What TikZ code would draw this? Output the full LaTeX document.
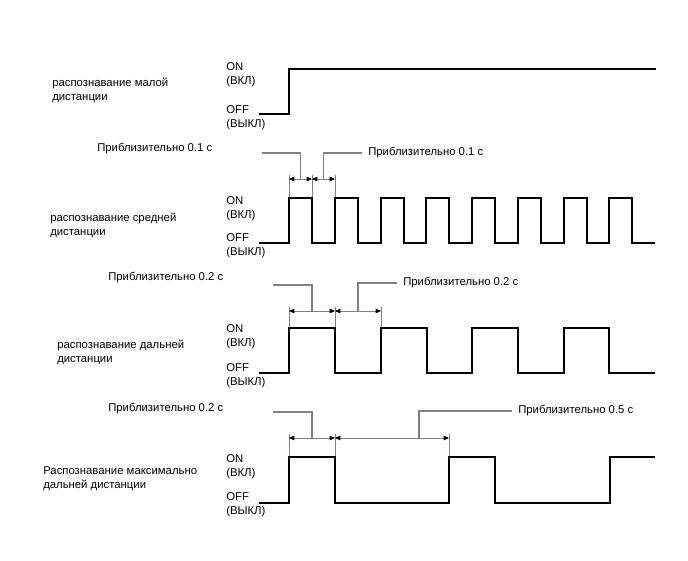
\documentclass[tikz,border=0pt]{standalone}
\usepackage{fontspec}
\setmainfont{Liberation Sans}
\usetikzlibrary{arrows.meta}

\begin{document}
\begin{tikzpicture}[
    x=0.75pt, y=-0.75pt,
    font=\fontsize{8.5}{10.6}\selectfont,
    lbl/.style={anchor=west, align=left, inner sep=0pt},
    tlbl/.style={anchor=west, inner xsep=4.5pt, inner ysep=0pt},
    sig/.style={draw=black, line width=1.4pt, line join=miter},
    lead/.style={draw=gray, line width=1.1pt},
    ext/.style={draw=gray, line width=0.5pt},
    dim/.style={draw=gray, line width=0.6pt,
                {Triangle[length=4pt, width=3.4pt, color=black]}-{Triangle[length=4pt, width=3.4pt, color=black]}},
  ]

  \useasboundingbox (0,0) rectangle (688,560);

  % short range
  \node[lbl] (near)    at (52,90.5) {распознавание малой\\дистанции};
  \node[lbl] (nearon)  at (226,75) {ON\\(ВКЛ)};
  \node[lbl] (nearoff) at (226,118) {OFF\\(ВЫКЛ)};
  \draw[sig] (259,114) -- (289,114) -- (289,69) -- (656,69);

  % middle range
  \node[lbl] (t1l) at (97,149) {Приблизительно 0.1 с};
  \node[tlbl] (t1r) at (362,153) {Приблизительно 0.1 с};
  \node[lbl] (mid)    at (50,225) {распознавание средней\\дистанции};
  \node[lbl] (midon)  at (226,208.5) {ON\\(ВКЛ)};
  \node[lbl] (midoff) at (226,246) {OFF\\(ВЫКЛ)};

  \draw[ext] (289,175) -- (289,198);
  \draw[ext] (312,175) -- (312,198);
  \draw[ext] (335,175) -- (335,198);
  \draw[dim] (289,179) -- (312,179);
  \draw[dim] (312,179) -- (335,179);
  \draw[lead] (262,153) -| (300.5,179);
  \draw[lead] (323.5,179) |- (t1r.west);

  \draw[sig] (259,243) -- (289,243) -- (289,198) -- (312,198) -- (312,243)
    -- (335,243) -- (335,198) -- (358,198) -- (358,243)
    -- (381,243) -- (381,198) -- (404,198) -- (404,243)
    -- (426,243) -- (426,198) -- (449,198) -- (449,243)
    -- (472,243) -- (472,198) -- (495,198) -- (495,243)
    -- (518,243) -- (518,198) -- (541,198) -- (541,243)
    -- (564,243) -- (564,198) -- (587,198) -- (587,243)
    -- (609,243) -- (609,198) -- (632,198) -- (632,243) -- (655,243);

  % long range
  \node[lbl] (t2l) at (108,278) {Приблизительно 0.2 с};
  \node[tlbl] (t2r) at (397,283) {Приблизительно 0.2 с};
  \node[lbl] (far)    at (57,352) {распознавание дальней\\дистанции};
  \node[lbl] (faron)  at (226,337) {ON\\(ВКЛ)};
  \node[lbl] (faroff) at (226,375.5) {OFF\\(ВЫКЛ)};

  \draw[ext] (289,307) -- (289,328);
  \draw[ext] (335,307) -- (335,328);
  \draw[ext] (381,307) -- (381,328);
  \draw[dim] (289,311) -- (335,311);
  \draw[dim] (335,311) -- (381,311);
  \draw[lead] (273,285) -| (312,311);
  \draw[lead] (358,311) |- (t2r.west);

  \draw[sig] (259,373) -- (289,373) -- (289,328) -- (335,328) -- (335,373)
    -- (381,373) -- (381,328) -- (427,328) -- (427,373)
    -- (472,373) -- (472,328) -- (518,328) -- (518,373)
    -- (564,373) -- (564,328) -- (609,328) -- (609,373) -- (655,373);

  % maximum range
  \node[lbl] (t3l) at (108,409) {Приблизительно 0.2 с};
  \node[tlbl] (t3r) at (512,411) {Приблизительно 0.5 с};
  \node[lbl] (xfar)    at (43,479) {Распознавание максимально\\дальней дистанции};
  \node[lbl] (xfaron)  at (226,467) {ON\\(ВКЛ)};
  \node[lbl] (xfaroff) at (226,504.5) {OFF\\(ВЫКЛ)};

  \draw[ext] (289,434) -- (289,457);
  \draw[ext] (335,434) -- (335,457);
  \draw[ext] (449,434) -- (449,457);
  \draw[dim] (289,438) -- (335,438);
  \draw[dim] (335,438) -- (449,438);
  \draw[lead] (273,412) -| (312,438);
  \draw[lead] (419,438) |- (t3r.west);

  \draw[sig] (259,503) -- (289,503) -- (289,457) -- (335,457) -- (335,503)
    -- (449,503) -- (449,457) -- (495,457) -- (495,503)
    -- (610,503) -- (610,457) -- (655,457);

\end{tikzpicture}
\end{document}
